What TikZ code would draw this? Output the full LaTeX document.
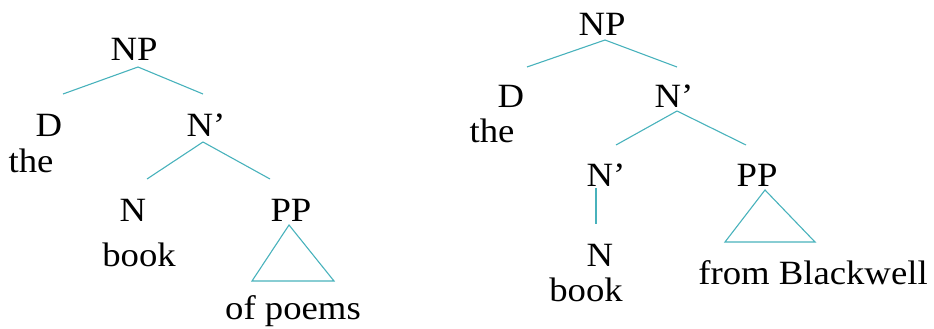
\documentclass[tikz,border=0pt]{standalone}
\usepackage{fontspec}
\setmainfont[FakeStretch=1.08]{Liberation Serif}
\definecolor{branch}{RGB}{72,178,188}
\begin{document}
\begin{tikzpicture}[x=1pt,y=-1pt,
  lbl/.style={anchor=base,inner sep=0pt,font=\fontsize{34}{34}\selectfont},
  br/.style={draw=branch,line width=1.1pt}]
\useasboundingbox (0,0) rectangle (934,329);

% --- left tree: [NP [D the] [N' [N book] [PP of poems]]]
\node[lbl] (np1)   at (134,60)  {NP};
\node[lbl] (d1)    at (49,136)  {D};
\node[lbl] (the1)  at (31,172)  {the};
\node[lbl] (nb1)   at (206,136) {N’};
\node[lbl] (n1)    at (133,221) {N};
\node[lbl] (book1) at (139,266) {book};
\node[lbl] (pp1)   at (291,221) {PP};
\node[lbl] (op)    at (293,319) {of poems};

\coordinate (np1b) at (138,67);
\coordinate (d1t)  at (63,94);
\coordinate (nb1t) at (203,94);
\coordinate (nb1b) at (203,142);
\coordinate (n1t)  at (147,179);
\coordinate (pp1t) at (270,179);
\coordinate (tri1a) at (289,225);
\coordinate (tri1l) at (252,281);
\coordinate (tri1r) at (334,281);

\draw[br] (d1t) -- (np1b) -- (nb1t);
\draw[br] (n1t) -- (nb1b) -- (pp1t);
\draw[br] (tri1a) -- (tri1l) -- (tri1r) -- cycle;

% --- right tree: [NP [D the] [N' [N' [N book]] [PP from Blackwell]]]
\node[lbl] (np2)   at (602,36)  {NP};
\node[lbl] (d2)    at (511,107) {D};
\node[lbl] (the2)  at (492,142) {the};
\node[lbl] (nb2)   at (674,107) {N’};
\node[lbl] (nb3)   at (606,186) {N’};
\node[lbl] (n2)    at (600,266) {N};
\node[lbl] (book2) at (586,301) {book};
\node[lbl] (pp2)   at (757,186) {PP};
\node[lbl] (fb)    at (813,284) {from Blackwell};

\coordinate (np2b) at (605,40);
\coordinate (d2t)  at (527,67);
\coordinate (nb2t) at (677,67);
\coordinate (nb2b) at (677,111);
\coordinate (nb3t) at (616,145);
\coordinate (pp2t) at (746,145);
\coordinate (nb3b) at (596,188);
\coordinate (n2t)  at (596,224);
\coordinate (tri2a) at (765,190);
\coordinate (tri2l) at (725,242);
\coordinate (tri2r) at (815,242);

\draw[br] (d2t) -- (np2b) -- (nb2t);
\draw[br] (nb3t) -- (nb2b) -- (pp2t);
\draw[br] (nb3b) -- (n2t);
\draw[br] (tri2a) -- (tri2l) -- (tri2r) -- cycle;
\end{tikzpicture}
\end{document}
